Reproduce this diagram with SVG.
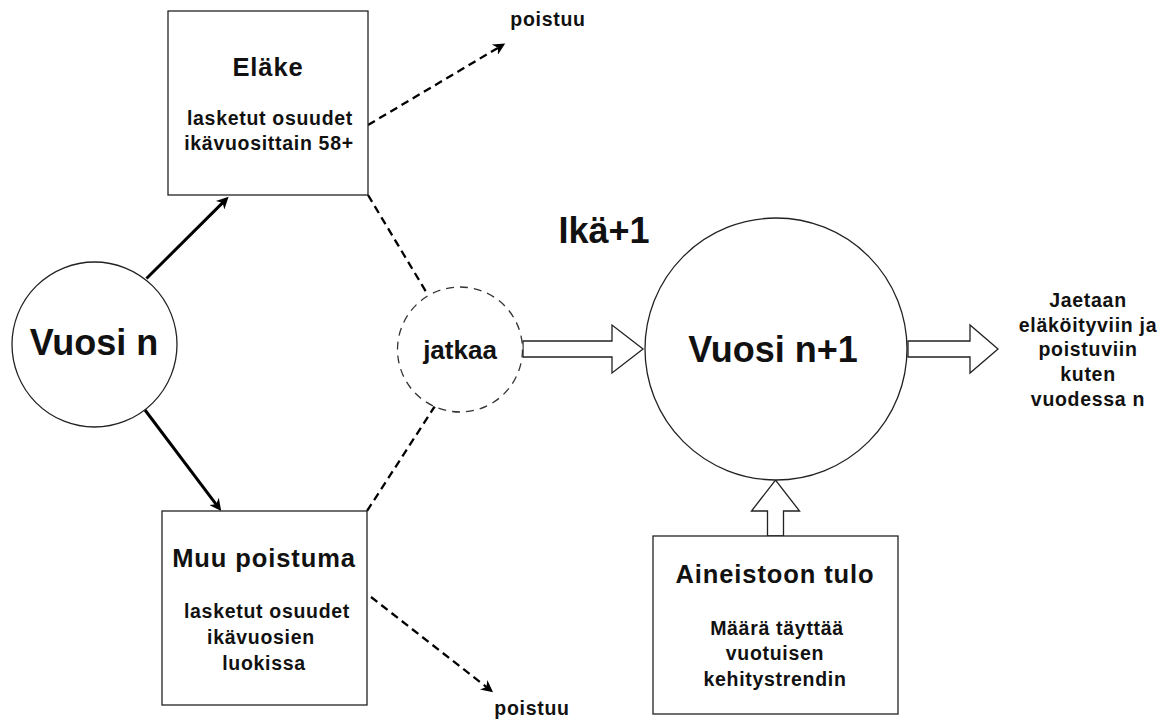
<svg xmlns="http://www.w3.org/2000/svg" width="1165" height="724" viewBox="0 0 1165 724">
  <style>
    text { font-family: "Liberation Sans", Arial, sans-serif; font-weight: bold; fill: #111; text-anchor: middle; }
    .big { font-size: 36px; }
    .h { font-size: 25.5px; letter-spacing: 0.9px; }
    .s { font-size: 19.5px; letter-spacing: 0.7px; }
    .j { font-size: 26px; }
    .shape { fill: #fff; stroke: #222; stroke-width: 1.3; }
    .dcircle { fill: #fff; stroke: #333; stroke-width: 1.3; stroke-dasharray: 8 6; }
    .thick { fill: none; stroke: #000; stroke-width: 3; }
    .dash { fill: none; stroke: #000; stroke-width: 2.3; stroke-dasharray: 8 5; }
    .block { fill: #fff; stroke: #222; stroke-width: 1.3; stroke-linejoin: miter; }
  </style>
  <defs>
    <marker id="arrThick" viewBox="0 0 10 10" refX="4" refY="5" markerWidth="14" markerHeight="12" markerUnits="userSpaceOnUse" orient="auto">
      <path d="M0,0 L10,5 L0,10 L3,5 z" fill="#000"/>
    </marker>
    <marker id="arrDash" viewBox="0 0 10 10" refX="4" refY="5" markerWidth="14" markerHeight="12" markerUnits="userSpaceOnUse" orient="auto">
      <path d="M0,0 L10,5 L0,10 L3,5 z" fill="#000"/>
    </marker>
  </defs>

  <g id="connectors">
    <line class="thick" x1="146.5" y1="278.5" x2="223.5" y2="201.9" marker-end="url(#arrThick)"/>
    <line class="thick" x1="145" y1="410" x2="216.9" y2="505.3" marker-end="url(#arrThick)"/>
    <line class="dash" x1="368" y1="125" x2="499" y2="47.2" marker-end="url(#arrDash)"/>
    <line class="dash" x1="371" y1="597" x2="487.4" y2="687.8" marker-end="url(#arrDash)"/>
    <line class="dash" x1="368" y1="195" x2="428" y2="295"/>
    <line class="dash" x1="435" y1="406" x2="367" y2="511"/>
    <polygon class="block" points="523,341 612,341 612,325 643,349 612,373 612,357 523,357"/>
    <polygon class="block" points="908,341 970,341 970,325 998,349 970,373 970,357 908,357"/>
    <polygon class="block" points="767.5,536 767.5,511 751.5,511 775.5,480 799.5,511 783.5,511 783.5,536"/>
  </g>

  <g id="vuosi-n">
    <circle class="shape" cx="94.5" cy="344.5" r="82.5"/>
    <text class="big" x="94" y="355">Vuosi n</text>
  </g>

  <g id="elake">
    <rect class="shape" x="168" y="11" width="200" height="184"/>
    <text class="h" x="268" y="76">Eläke</text>
    <text class="s" x="270" y="125">lasketut osuudet</text>
    <text class="s" x="269" y="150">ikävuosittain 58+</text>
  </g>

  <g id="muu-poistuma">
    <rect class="shape" x="162" y="511" width="205" height="194"/>
    <text class="h" x="264" y="567">Muu poistuma</text>
    <text class="s" x="267" y="618">lasketut osuudet</text>
    <text class="s" x="261" y="644">ikävuosien</text>
    <text class="s" x="264" y="670">luokissa</text>
  </g>

  <g id="jatkaa">
    <circle class="dcircle" cx="460" cy="349.5" r="62.5"/>
    <text class="j" x="460" y="359">jatkaa</text>
  </g>

  <g id="ika">
    <text class="big" x="604" y="243">Ikä+1</text>
  </g>

  <g id="vuosi-n1">
    <circle class="shape" cx="776" cy="349" r="131"/>
    <text class="big" x="773" y="362">Vuosi n+1</text>
  </g>

  <g id="aineistoon-tulo">
    <rect class="shape" x="653" y="536" width="245" height="178"/>
    <text class="h" x="775" y="583">Aineistoon tulo</text>
    <text class="s" x="777" y="635">Määrä täyttää</text>
    <text class="s" x="775" y="660">vuotuisen</text>
    <text class="s" x="775" y="686">kehitystrendin</text>
  </g>

  <g id="jaetaan">
    <text class="s" x="1088" y="307">Jaetaan</text>
    <text class="s" x="1088" y="332">eläköityviin ja</text>
    <text class="s" x="1088" y="356">poistuviin</text>
    <text class="s" x="1088" y="381">kuten</text>
    <text class="s" x="1088" y="406">vuodessa n</text>
  </g>

  <g id="poistuu-top">
    <text class="s" x="548" y="26">poistuu</text>
  </g>
  <g id="poistuu-bottom">
    <text class="s" x="532" y="715">poistuu</text>
  </g>
</svg>
